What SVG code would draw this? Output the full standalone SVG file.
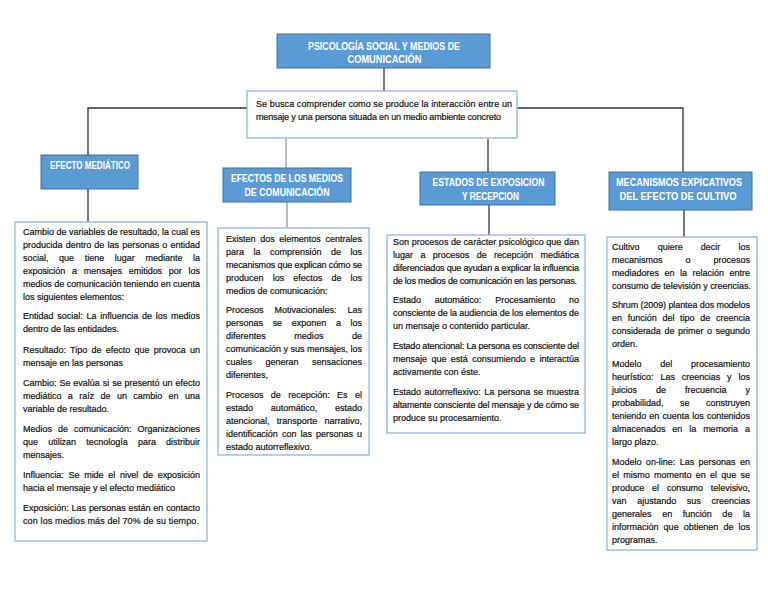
<svg xmlns="http://www.w3.org/2000/svg" width="768" height="594" viewBox="0 0 768 594">
<style>
.hd{fill:#5B9BD5;stroke:#41719C;stroke-width:1}
.ht{font-family:"Liberation Sans",Arial,sans-serif;font-size:10px;font-weight:bold;fill:#fff;text-anchor:middle}
.bx{fill:#fff;stroke:#8EB4E3;stroke-width:1.3}
.t{font-family:"Liberation Sans",Arial,sans-serif;font-size:9px;fill:#111;stroke:#111;stroke-width:0.2}
.c{stroke:#333;stroke-width:1.3;fill:none}
.c2{stroke:#777;stroke-width:1;fill:none}
</style>
<rect width="768" height="594" fill="#fff"/>
<g id="connectors">
<line class="c" x1="384" y1="68" x2="384" y2="91"/>
<polyline class="c" points="247,108 88,108 88,155"/>
<polyline class="c" points="517,108 683,108 683,172"/>
<line class="c2" x1="286" y1="139" x2="286" y2="168"/>
<line class="c" x1="488" y1="139" x2="488" y2="172"/>
<line class="c" x1="88" y1="189" x2="88" y2="222"/>
<line class="c2" x1="287" y1="202" x2="287" y2="228"/>
<line class="c" x1="489" y1="205" x2="489" y2="235"/>
<line class="c" x1="684" y1="210" x2="684" y2="237"/>
</g>
<g id="title">
<rect class="hd" x="277" y="34" width="213" height="34"/>
<text class="ht" x="384" y="49.5" textLength="152" lengthAdjust="spacingAndGlyphs">PSICOLOGÍA SOCIAL Y MEDIOS DE</text>
<text class="ht" x="384.5" y="63" textLength="74" lengthAdjust="spacingAndGlyphs">COMUNICACIÓN</text>
</g>
<g id="subtitle">
<rect class="bx" x="247" y="91" width="270" height="47"/>
<text class="t" x="256" y="107" textLength="256" lengthAdjust="spacing">Se busca comprender como se produce la interacción entre un</text>
<text class="t" x="256" y="120" textLength="245" lengthAdjust="spacing">mensaje y una persona situada en un medio ambiente concreto</text>
</g>
<g id="efecto-mediatico">
<rect class="hd" x="41" y="155" width="97" height="34"/>
<text class="ht" x="90" y="168.5" textLength="80" lengthAdjust="spacingAndGlyphs">EFECTO MEDIÁTICO</text>
</g>
<g id="efecto-mediatico-texto">
<rect class="bx" x="15" y="222" width="192" height="319"/>
<text class="t" x="23" y="235" textLength="177" lengthAdjust="spacing">Cambio de variables de resultado, la cual es</text>
<text class="t" x="23" y="248" textLength="177" lengthAdjust="spacing" word-spacing="0.7">producida dentro de las personas o entidad</text>
<text class="t" x="23" y="261" textLength="177" lengthAdjust="spacing" word-spacing="8.1">social, que tiene lugar mediante la</text>
<text class="t" x="23" y="274" textLength="177" lengthAdjust="spacing" word-spacing="4.3">exposición a mensajes emitidos por los</text>
<text class="t" x="23" y="287" textLength="177" lengthAdjust="spacing">medios de comunicación teniendo en cuenta</text>
<text class="t" x="23" y="300">los siguientes elementos:</text>
<text class="t" x="23" y="319" textLength="177" lengthAdjust="spacing" word-spacing="1.2">Entidad social: La influencia de los medios</text>
<text class="t" x="23" y="332">dentro de las entidades.</text>
<text class="t" x="23" y="353" textLength="177" lengthAdjust="spacing" word-spacing="1.7">Resultado: Tipo de efecto que provoca un</text>
<text class="t" x="23" y="366">mensaje en las personas</text>
<text class="t" x="23" y="386" textLength="177" lengthAdjust="spacing" word-spacing="0.4">Cambio: Se evalúa si se presentó un efecto</text>
<text class="t" x="23" y="399" textLength="177" lengthAdjust="spacing" word-spacing="3.9">mediático a raíz de un cambio en una</text>
<text class="t" x="23" y="412">variable de resultado.</text>
<text class="t" x="23" y="432" textLength="177" lengthAdjust="spacing" word-spacing="3.5">Medios de comunicación: Organizaciones</text>
<text class="t" x="23" y="445" textLength="177" lengthAdjust="spacing" word-spacing="7.6">que utilizan tecnología para distribuir</text>
<text class="t" x="23" y="458">mensajes.</text>
<text class="t" x="23" y="478" textLength="177" lengthAdjust="spacing" word-spacing="2.2">Influencia: Se mide el nivel de exposición</text>
<text class="t" x="23" y="491">hacia el mensaje y el efecto mediático</text>
<text class="t" x="23" y="511" textLength="177" lengthAdjust="spacing" word-spacing="0.4">Exposición: Las personas están en contacto</text>
<text class="t" x="23" y="524" textLength="176" lengthAdjust="spacing">con los medios más del 70% de su tiempo.</text>
</g>
<g id="efectos-medios">
<rect class="hd" x="223" y="168" width="128" height="34"/>
<text class="ht" x="287" y="182" textLength="112" lengthAdjust="spacingAndGlyphs">EFECTOS DE LOS MEDIOS</text>
<text class="ht" x="287" y="195.5" textLength="85" lengthAdjust="spacingAndGlyphs">DE COMUNICACIÓN</text>
</g>
<g id="efectos-medios-texto">
<rect class="bx" x="218" y="228" width="151" height="227"/>
<text class="t" x="226" y="242" textLength="136" lengthAdjust="spacing" word-spacing="2.2">Existen dos elementos centrales</text>
<text class="t" x="226" y="255" textLength="136" lengthAdjust="spacing" word-spacing="7">para la comprensión de los</text>
<text class="t" x="226" y="268" textLength="136" lengthAdjust="spacing">mecanismos que explican cómo se</text>
<text class="t" x="226" y="281" textLength="136" lengthAdjust="spacing" word-spacing="6.6">producen los efectos de los</text>
<text class="t" x="226" y="294">medios de comunicación:</text>
<text class="t" x="226" y="313" textLength="136" lengthAdjust="spacing" word-spacing="8.5">Procesos Motivacionales: Las</text>
<text class="t" x="226" y="326" textLength="136" lengthAdjust="spacing" word-spacing="7.1">personas se exponen a los</text>
<text class="t" x="226" y="339" textLength="136" lengthAdjust="spacing" word-spacing="26">diferentes medios de</text>
<text class="t" x="226" y="352" textLength="136" lengthAdjust="spacing">comunicación y sus mensajes, los</text>
<text class="t" x="226" y="365" textLength="136" lengthAdjust="spacing" word-spacing="11">cuales generan sensaciones</text>
<text class="t" x="226" y="378">diferentes,</text>
<text class="t" x="226" y="398" textLength="136" lengthAdjust="spacing" word-spacing="4.9">Procesos de recepción: Es el</text>
<text class="t" x="226" y="411" textLength="136" lengthAdjust="spacing" word-spacing="15.2">estado automático, estado</text>
<text class="t" x="226" y="424" textLength="136" lengthAdjust="spacing" word-spacing="4.7">atencional, transporte narrativo,</text>
<text class="t" x="226" y="437" textLength="136" lengthAdjust="spacing" word-spacing="1.6">identificación con las personas u</text>
<text class="t" x="226" y="450">estado autorreflexivo.</text>
</g>
<g id="estados">
<rect class="hd" x="420" y="172" width="135" height="33"/>
<text class="ht" x="488.5" y="185.5" textLength="112" lengthAdjust="spacingAndGlyphs">ESTADOS DE EXPOSICION</text>
<text class="ht" x="490.5" y="199.5" textLength="57" lengthAdjust="spacingAndGlyphs">Y RECEPCION</text>
</g>
<g id="estados-texto">
<rect class="bx" x="387" y="235" width="198" height="198"/>
<text class="t" x="393" y="245" textLength="186" lengthAdjust="spacing">Son procesos de carácter psicológico que dan</text>
<text class="t" x="393" y="258" textLength="186" lengthAdjust="spacing" word-spacing="4.9">lugar a procesos de recepción mediática</text>
<text class="t" x="393" y="271" textLength="186" lengthAdjust="spacing">diferenciados que ayudan a explicar la influencia</text>
<text class="t" x="393" y="284" textLength="184" lengthAdjust="spacing">de los medios de comunicación en las personas.</text>
<text class="t" x="393" y="303" textLength="186" lengthAdjust="spacing" word-spacing="11.3">Estado automático: Procesamiento no</text>
<text class="t" x="393" y="316" textLength="186" lengthAdjust="spacing">consciente de la audiencia de los elementos de</text>
<text class="t" x="393" y="329">un mensaje o contenido particular.</text>
<text class="t" x="393" y="349" textLength="186" lengthAdjust="spacing">Estado atencional: La persona es consciente del</text>
<text class="t" x="393" y="362" textLength="186" lengthAdjust="spacing" word-spacing="1.9">mensaje que está consumiendo e interactúa</text>
<text class="t" x="393" y="375">activamente con éste.</text>
<text class="t" x="393" y="395" textLength="186" lengthAdjust="spacing" word-spacing="1">Estado autorreflexivo: La persona se muestra</text>
<text class="t" x="393" y="408" textLength="186" lengthAdjust="spacing">altamente consciente del mensaje y de cómo se</text>
<text class="t" x="393" y="421">produce su procesamiento.</text>
</g>
<g id="mecanismos">
<rect class="hd" x="609" y="172" width="143" height="38"/>
<text class="ht" x="679" y="186" textLength="126" lengthAdjust="spacingAndGlyphs">MECANISMOS EXPICATIVOS</text>
<text class="ht" x="678" y="199.5" textLength="117" lengthAdjust="spacingAndGlyphs">DEL EFECTO DE CULTIVO</text>
</g>
<g id="mecanismos-texto">
<rect class="bx" x="607" y="237" width="150" height="313"/>
<text class="t" x="612" y="250" textLength="138" lengthAdjust="spacing" word-spacing="15.7">Cultivo quiere decir los</text>
<text class="t" x="612" y="263" textLength="138" lengthAdjust="spacing" word-spacing="20.5">mecanismos o procesos</text>
<text class="t" x="612" y="276" textLength="138" lengthAdjust="spacing" word-spacing="3">mediadores en la relación entre</text>
<text class="t" x="612" y="289" textLength="139" lengthAdjust="spacing">consumo de televisión y creencias.</text>
<text class="t" x="612" y="308" textLength="138" lengthAdjust="spacing">Shrum (2009) plantea dos modelos</text>
<text class="t" x="612" y="321" textLength="138" lengthAdjust="spacing" word-spacing="3.2">en función del tipo de creencia</text>
<text class="t" x="612" y="334" textLength="138" lengthAdjust="spacing" word-spacing="1.1">considerada de primer o segundo</text>
<text class="t" x="612" y="347">orden.</text>
<text class="t" x="612" y="367" textLength="138" lengthAdjust="spacing" word-spacing="16.2">Modelo del procesamiento</text>
<text class="t" x="612" y="380" textLength="138" lengthAdjust="spacing" word-spacing="4.4">heurístico: Las creencias y los</text>
<text class="t" x="612" y="393" textLength="138" lengthAdjust="spacing" word-spacing="16.5">juicios de frecuencia y</text>
<text class="t" x="612" y="406" textLength="138" lengthAdjust="spacing" word-spacing="14">probabilidad, se construyen</text>
<text class="t" x="612" y="419" textLength="138" lengthAdjust="spacing" word-spacing="0.6">teniendo en cuenta los contenidos</text>
<text class="t" x="612" y="432" textLength="138" lengthAdjust="spacing" word-spacing="4.4">almacenados en la memoria a</text>
<text class="t" x="612" y="445">largo plazo.</text>
<text class="t" x="612" y="465" textLength="138" lengthAdjust="spacing" word-spacing="1.9">Modelo on-line: Las personas en</text>
<text class="t" x="612" y="478" textLength="138" lengthAdjust="spacing" word-spacing="1.7">el mismo momento en el que se</text>
<text class="t" x="612" y="491" textLength="138" lengthAdjust="spacing" word-spacing="5.3">produce el consumo televisivo,</text>
<text class="t" x="612" y="504" textLength="138" lengthAdjust="spacing" word-spacing="8.2">van ajustando sus creencias</text>
<text class="t" x="612" y="517" textLength="138" lengthAdjust="spacing" word-spacing="8.1">generales en función de la</text>
<text class="t" x="612" y="530" textLength="138" lengthAdjust="spacing" word-spacing="2.6">información que obtienen de los</text>
<text class="t" x="612" y="543">programas.</text>
</g>
</svg>
